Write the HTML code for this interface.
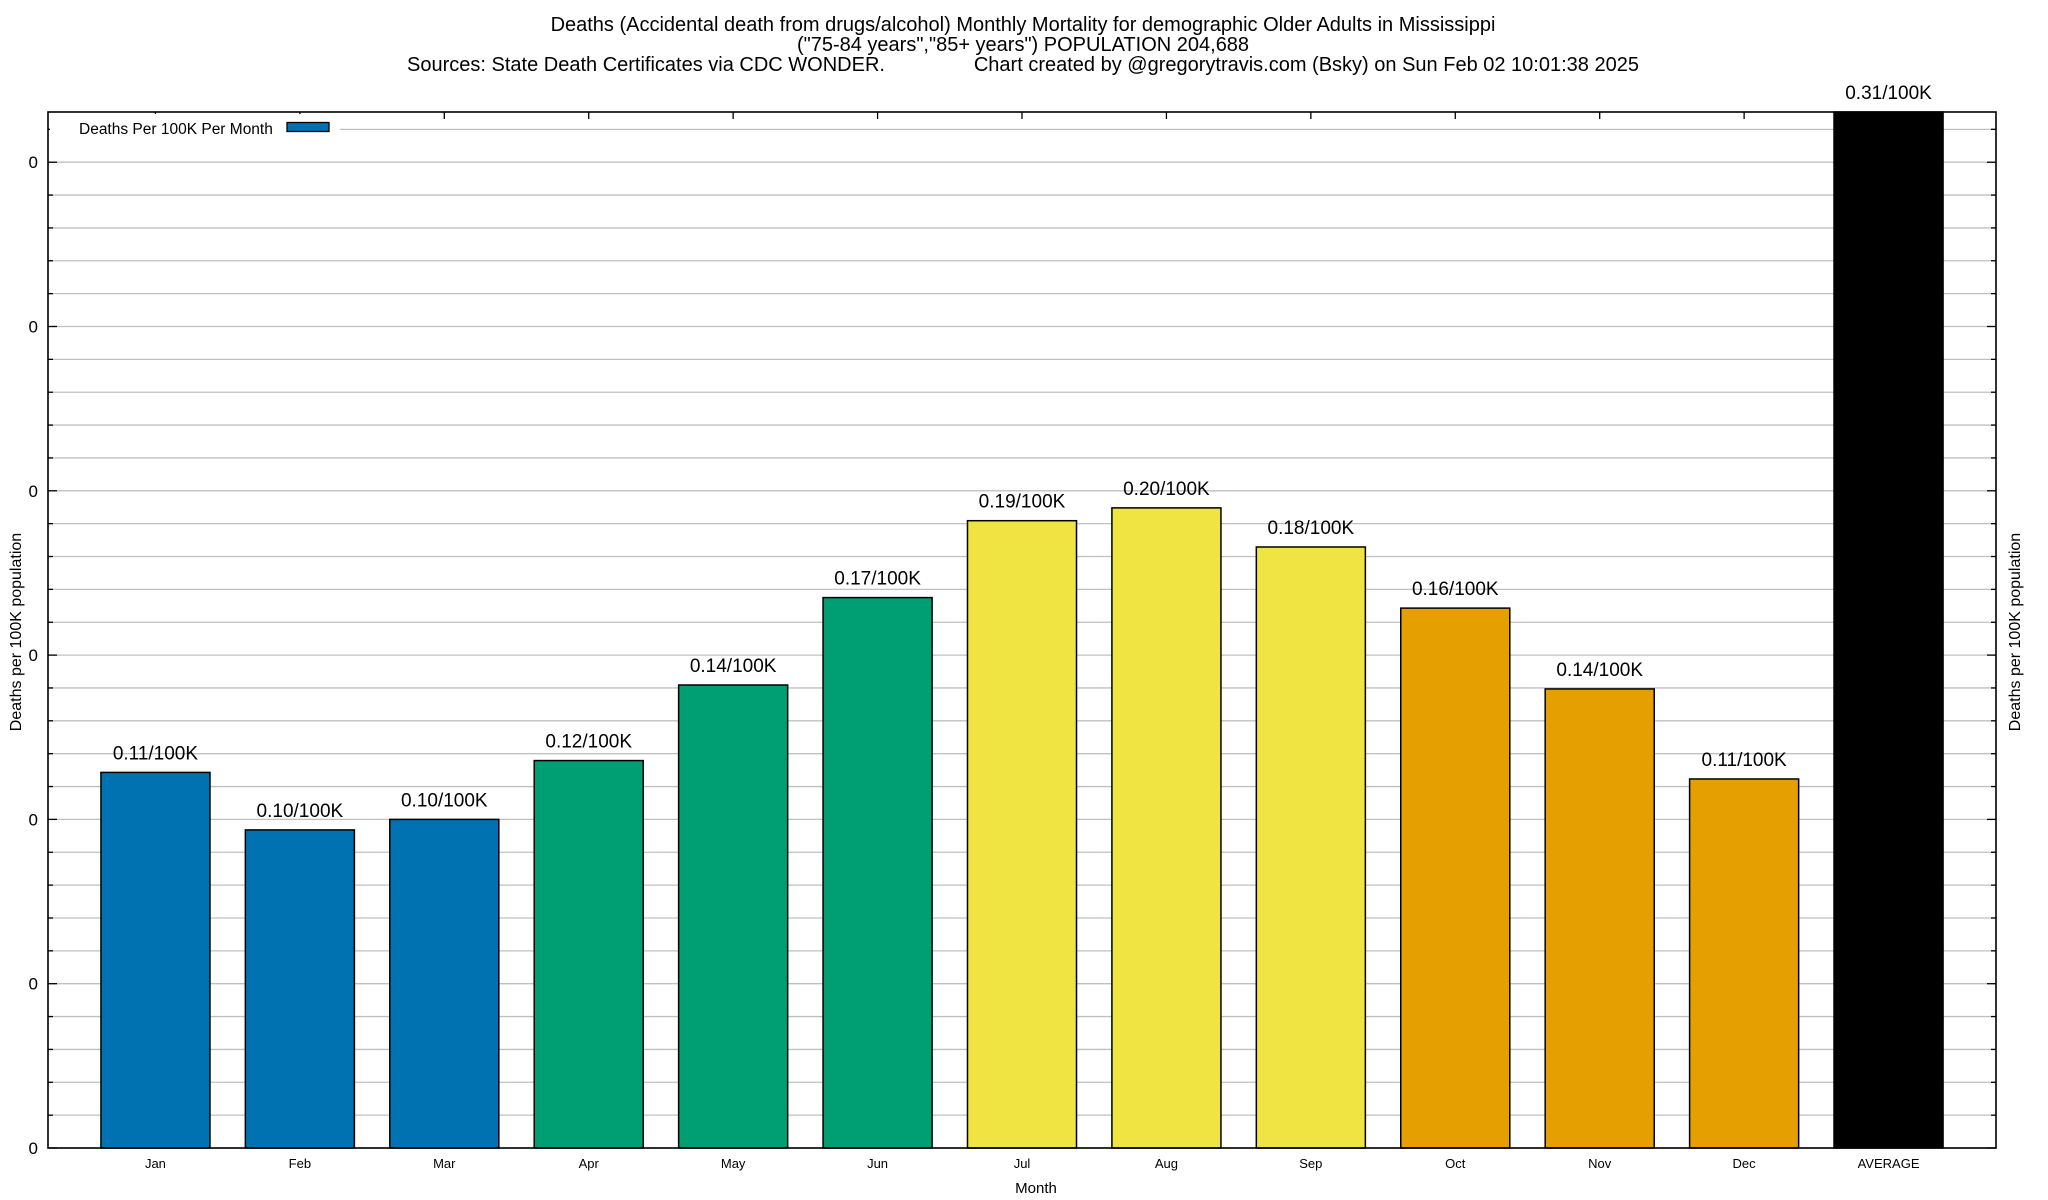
<!DOCTYPE html>
<html><head><meta charset="utf-8"><style>
html,body{margin:0;padding:0;background:#fff;}
svg{display:block;font-family:"Liberation Sans",sans-serif;}
</style></head><body>
<svg id="chart" width="2048" height="1200" viewBox="0 0 2048 1200" xmlns="http://www.w3.org/2000/svg">
<g font-size="20" text-anchor="middle" fill="#000">
<text x="1023" y="31">Deaths (Accidental death from drugs/alcohol) Monthly Mortality for demographic Older Adults in Mississippi</text>
<text x="1023" y="51">("75-84 years","85+ years") POPULATION 204,688</text>
<text x="1023" y="71" xml:space="preserve">Sources: State Death Certificates via CDC WONDER.                Chart created by @gregorytravis.com (Bsky) on Sun Feb 02 10:01:38 2025</text>
</g>
<g id="grid"></g>
<g id="bars"></g>
<g id="axes"></g>
<text transform="translate(21,632) rotate(-90)" font-size="16" text-anchor="middle">Deaths per 100K population</text>
<text transform="translate(2020,632) rotate(-90)" font-size="16" text-anchor="middle">Deaths per 100K population</text>
<text x="1036" y="1193" font-size="15" text-anchor="middle">Month</text>
</svg>
<script>
const categories = ["Jan","Feb","Mar","Apr","May","Jun","Jul","Aug","Sep","Oct","Nov","Dec","AVERAGE"];
const values = [0.1143,0.0968,0.1000,0.1179,0.1409,0.1675,0.1909,0.1948,0.1829,0.1643,0.1397,0.1123,0.316];
const valueLabels = ["0.11/100K","0.10/100K","0.10/100K","0.12/100K","0.14/100K","0.17/100K","0.19/100K","0.20/100K","0.18/100K","0.16/100K","0.14/100K","0.11/100K","0.31/100K"];
const barColors = ["#0072b2","#0072b2","#0072b2","#009e73","#009e73","#009e73","#f0e442","#f0e442","#f0e442","#e69f00","#e69f00","#e69f00","#000000"];
const yTicks = [0,0.05,0.1,0.15,0.2,0.25,0.3];
const yTickLabels = ["0","0","0","0","0","0","0"];

const L=48,R=1996,T=112,B=1148;
const xMin=-0.744,xMax=12.744;
const yMax=(B-T)/(164.3/0.05);
const NS="http://www.w3.org/2000/svg";
function xs(i){return L+(i-xMin)/(xMax-xMin)*(R-L);}
function ys(v){return B-Math.min(v,yMax)/yMax*(B-T);}
function mk(tag,attrs,parent){const e=document.createElementNS(NS,tag);for(const k in attrs)e.setAttribute(k,attrs[k]);parent.appendChild(e);return e;}
const grid=document.getElementById('grid'),bars=document.getElementById('bars'),axes=document.getElementById('axes');
const bw=(xs(1)-xs(0))*0.755;
for(let k=0;k*0.01<=yMax+1e-9;k++){
  const v=k*0.01,y=ys(v);
  const g=mk('line',{x1:L,x2:R,y1:y,y2:y,stroke:'#c0c0c0','stroke-width':1.3},grid);
  
  
  const major=(k%5===0);const len=major?9:5;
  const t1=mk('line',{x1:L,x2:L+len,y1:y,y2:y,stroke:'#000','stroke-width':1.3},axes);
  
  
  const t2=mk('line',{x1:R-len,x2:R,y1:y,y2:y,stroke:'#000','stroke-width':1.3},axes);
  
  
}
yTicks.forEach((v,i)=>{
  const t=mk('text',{x:38,y:ys(v)+6,'font-size':17,'text-anchor':'end'},axes);
  t.textContent=yTickLabels[i];
  
  
});
categories.forEach((c,i)=>{
  const x=xs(i),y=ys(values[i]);
  const r=mk('rect',{x:x-bw/2,y:y,width:bw,height:B-y,fill:barColors[i],stroke:'#000','stroke-width':1.5},bars);
  
  
  const lt=mk('text',{x:x,y:Math.max(y,T)-13,'font-size':19,'text-anchor':'middle'},bars);
  lt.textContent=valueLabels[i];
  
  
  const xt=mk('text',{x:x,y:1168,'font-size':13,'text-anchor':'middle'},axes);
  xt.textContent=c;
  
  
  const tk=mk('line',{x1:x,x2:x,y1:T,y2:T+7,stroke:'#000','stroke-width':1.3},axes);
  
  
});
const lg=mk('g',{},axes);


mk('rect',{x:L+2,y:114,width:290,height:26,fill:'#fff'},lg);
const ltx=mk('text',{x:79,y:134,'font-size':15.5},lg);
ltx.textContent='Deaths Per 100K Per Month';


const lsw=mk('rect',{x:287,y:122.5,width:42,height:9,fill:'#0072b2',stroke:'#000','stroke-width':1.3},lg);


const bd=mk('rect',{x:L,y:T,width:R-L,height:B-T,fill:'none',stroke:'#000','stroke-width':1.6},axes);


</script>
</body></html>
